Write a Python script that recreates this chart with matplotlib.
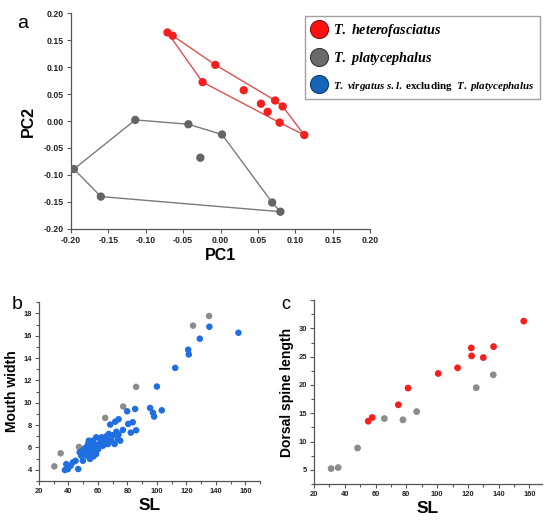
import matplotlib
matplotlib.use("Agg")
import matplotlib.pyplot as plt
from matplotlib.lines import Line2D
from matplotlib.ticker import MultipleLocator

# ---- panel a: PCA scores ----
hetero_pc1 = [-0.071, -0.064, -0.007, -0.024, 0.031, 0.054, 0.073, 0.083, 0.063, 0.079, 0.112]
hetero_pc2 = [0.164, 0.158, 0.104, 0.072, 0.057, 0.032, 0.038, 0.027, 0.017, -0.003, -0.026]
hetero_hull = [0, 1, 2, 6, 7, 10, 9, 3, 0]

platy_pc1 = [-0.114, -0.043, 0.002, -0.027, -0.196, -0.160, 0.069, 0.080]
platy_pc2 = [0.002, -0.006, -0.025, -0.068, -0.089, -0.140, -0.151, -0.168]
platy_hull = [0, 1, 2, 6, 7, 5, 4, 0]

pc_ticks = [-0.20, -0.15, -0.10, -0.05, 0.00, 0.05, 0.10, 0.15, 0.20]

# ---- panel b: mouth width vs SL ----
b_platy_sl = [30.4, 34.7, 47.1, 64.9, 77.1, 85.9, 124.5, 135.4]
b_platy_mw = [4.3, 5.47, 6.04, 8.64, 9.66, 11.42, 16.9, 17.76]

b_virg_sl = [155.3, 135.6, 129.1, 121.2, 121.6, 112.4, 100.0, 103.3, 95.4, 97.3,
             98.1, 85.2, 79.8, 85.9, 83.6, 80.5, 82.3, 74.0, 71.7, 68.3,
             76.9, 75.1, 74.0, 70.2, 67.3, 65.3, 64.6, 61.5, 58.8, 56.6,
             53.8, 55.4, 52.1, 50.9, 48.6, 52.5, 55.6, 58.8, 59.2, 56.6,
             53.8, 49.8, 46.6, 43.0, 41.5, 38.5, 37.6, 39.6, 44.8, 69.1,
             71.3, 73.5, 66.8, 61.2, 63.5, 57.8, 53.3, 49.8, 47.6, 54.6,
             60.3, 62.5, 64.0, 66.0, 57.0, 51.0, 59.5, 68.0, 72.5, 55.0]
b_virg_mw = [16.26, 16.8, 15.73, 14.74, 14.32, 13.12, 11.45, 9.32, 9.53, 9.1,
             8.76, 9.44, 9.23, 7.53, 8.25, 8.1, 7.32, 8.52, 8.3, 8.04,
             7.56, 6.6, 7.17, 7.1, 7.2, 6.95, 6.45, 6.75, 6.9, 6.6,
             6.6, 6.15, 6.0, 5.56, 5.26, 5.26, 5.26, 5.41, 5.86, 5.7,
             5.65, 4.8, 4.06, 4.66, 4.36, 4.5, 3.97, 4.06, 4.8, 6.6,
             6.3, 6.75, 6.3, 6.3, 6.15, 6.3, 6.3, 5.7, 5.56, 4.96,
             5.86, 6.9, 6.7, 7.0, 5.2, 5.9, 6.1, 6.6, 7.4, 5.9]

# ---- panel c: dorsal spine length vs SL ----
c_hetero_sl = [55.2, 57.8, 74.8, 81.1, 100.7, 113.3, 122.2, 122.4, 130.0, 136.7, 156.3]
c_hetero_ds = [13.6, 14.25, 16.5, 19.45, 22.03, 23.03, 26.55, 25.14, 24.85, 26.78, 31.29]
c_platy_sl = [31.1, 35.7, 48.3, 65.7, 77.8, 86.7, 125.4, 136.5]
c_platy_ds = [5.23, 5.41, 8.86, 14.07, 13.84, 15.3, 19.52, 21.8]

sl_ticks = [20, 40, 60, 80, 100, 120, 140, 160]
mw_ticks = [4, 6, 8, 10, 12, 14, 16, 18]
ds_ticks = [5, 10, 15, 20, 25, 30, 35]
ds_labels = ["5", "10", "15", "20", "25", "30", ""]

RED = "#f41f1f"
GRAY_A = "#646464"
GRAY = "#8c8c8c"
BLUE = "#1f6fe3"
SPINE = "#555555"

plt.rcParams["font.family"] = ["Liberation Sans", "DejaVu Sans"]
plt.rcParams["mathtext.fontset"] = "custom"
plt.rcParams["mathtext.it"] = "Liberation Serif:italic:bold"
plt.rcParams["mathtext.rm"] = "Liberation Serif:bold"

fig = plt.figure(figsize=(5.5, 5.21), dpi=100)


def style_axes(ax):
    for s in ("top", "right"):
        ax.spines[s].set_visible(False)
    for s in ("left", "bottom"):
        ax.spines[s].set_color(SPINE)
        ax.spines[s].set_linewidth(0.9)
    ax.tick_params(which="both", direction="out", colors=SPINE, labelcolor="#222222", width=0.8)
    ax.tick_params(which="major", length=3, pad=2)
    ax.tick_params(which="minor", length=2)


# panel a
ax_a = fig.add_axes([0.129, 0.5605, 0.544, 0.4145])
ax_a.plot([hetero_pc1[i] for i in hetero_hull], [hetero_pc2[i] for i in hetero_hull],
          color="#e05050", lw=1.0, zorder=1)
ax_a.plot([platy_pc1[i] for i in platy_hull], [platy_pc2[i] for i in platy_hull],
          color="#7a7a7a", lw=1.0, zorder=1)
ax_a.scatter(hetero_pc1, hetero_pc2, s=36, color=RED, edgecolors="none", zorder=3)
ax_a.scatter(platy_pc1, platy_pc2, s=36, color=GRAY_A, edgecolors="none", zorder=3)
ax_a.set_xlim(-0.20, 0.20)
ax_a.set_ylim(-0.20, 0.20)
style_axes(ax_a)
ax_a.set_xticks(pc_ticks, [f"{v:.2f}" for v in pc_ticks], fontsize=6.3, fontweight="bold")
ax_a.set_yticks(pc_ticks, [f"{v:.2f}" for v in pc_ticks], fontsize=6.3, fontweight="bold")
ax_a.set_xlabel("PC1", fontsize=11.5, fontweight="bold", labelpad=2)
ax_a.set_ylabel("PC2", fontsize=11.5, fontweight="bold", labelpad=6)
fig.text(0.032, 0.972, "a", fontsize=14, ha="left", va="top")

# legend
handles = [
    Line2D([], [], ls="none", marker="o", ms=13, mfc="#ff1010", mec="#8a1010", mew=0.8),
    Line2D([], [], ls="none", marker="o", ms=13, mfc="#6a6a6a", mec="#3a3a3a", mew=0.8),
    Line2D([], [], ls="none", marker="o", ms=13, mfc="#1565b8", mec="#0d3d70", mew=0.8),
]
labels = [
    r"$\mathit{T.\ heterofasciatus}$",
    r"$\mathit{T.\ platycephalus}$",
    r"$\mathit{T.\ virgatus\ s.l.}$ excluding  $\mathit{T.\ platycephalus}$",
]
leg = fig.legend(handles, labels, loc="upper left", bbox_to_anchor=(0.554, 0.970),
                 frameon=True, fancybox=False, edgecolor="#8a8a8a",
                 prop={"family": "Liberation Serif", "weight": "bold", "size": 10.2},
                 labelspacing=0.82, handletextpad=0.35, borderpad=0.42, handlelength=1.2,
                 borderaxespad=0)
leg.get_frame().set_linewidth(1.0)
leg.get_texts()[2].set_fontsize(7.9)

# panel b
ax_b = fig.add_axes([0.0709, 0.077, 0.402, 0.343])
ax_b.scatter(b_platy_sl, b_platy_mw, s=22, color=GRAY, edgecolors="none", zorder=3)
ax_b.scatter(b_virg_sl, b_virg_mw, s=22, color=BLUE, edgecolors="none", zorder=3)
ax_b.set_xlim(20, 170)
ax_b.set_ylim(3, 19)
style_axes(ax_b)
ax_b.set_xticks(sl_ticks, [str(v) for v in sl_ticks], fontsize=5.4, fontweight="bold")
ax_b.set_yticks(mw_ticks, [str(v) for v in mw_ticks], fontsize=5.4, fontweight="bold")
ax_b.xaxis.set_minor_locator(MultipleLocator(10))
ax_b.yaxis.set_minor_locator(MultipleLocator(1))
ax_b.set_xlabel("SL", fontsize=12.5, fontweight="bold", labelpad=2)
ax_b.set_ylabel("Mouth width", fontsize=10, fontweight="bold", labelpad=3)
fig.text(0.022, 0.432, "b", fontsize=14, ha="left", va="top")

# panel c
ax_c = fig.add_axes([0.571, 0.071, 0.414, 0.353])
ax_c.scatter(c_platy_sl, c_platy_ds, s=24, color=GRAY, edgecolors="none", zorder=3)
ax_c.scatter(c_hetero_sl, c_hetero_ds, s=24, color=RED, edgecolors="none", zorder=3)
ax_c.set_xlim(20, 168)
ax_c.set_ylim(2.5, 35)
style_axes(ax_c)
ax_c.set_xticks(sl_ticks, [str(v) for v in sl_ticks], fontsize=5.4, fontweight="bold")
ax_c.set_yticks(ds_ticks, ds_labels, fontsize=5.4, fontweight="bold")
ax_c.xaxis.set_minor_locator(MultipleLocator(10))
ax_c.yaxis.set_minor_locator(MultipleLocator(2.5))
ax_c.set_xlabel("SL", fontsize=12.5, fontweight="bold", labelpad=2)
ax_c.set_ylabel("Dorsal spine length", fontsize=10, fontweight="bold", labelpad=3)
fig.text(0.512, 0.432, "c", fontsize=13, ha="left", va="top")

fig.savefig("out.png", dpi=100)
